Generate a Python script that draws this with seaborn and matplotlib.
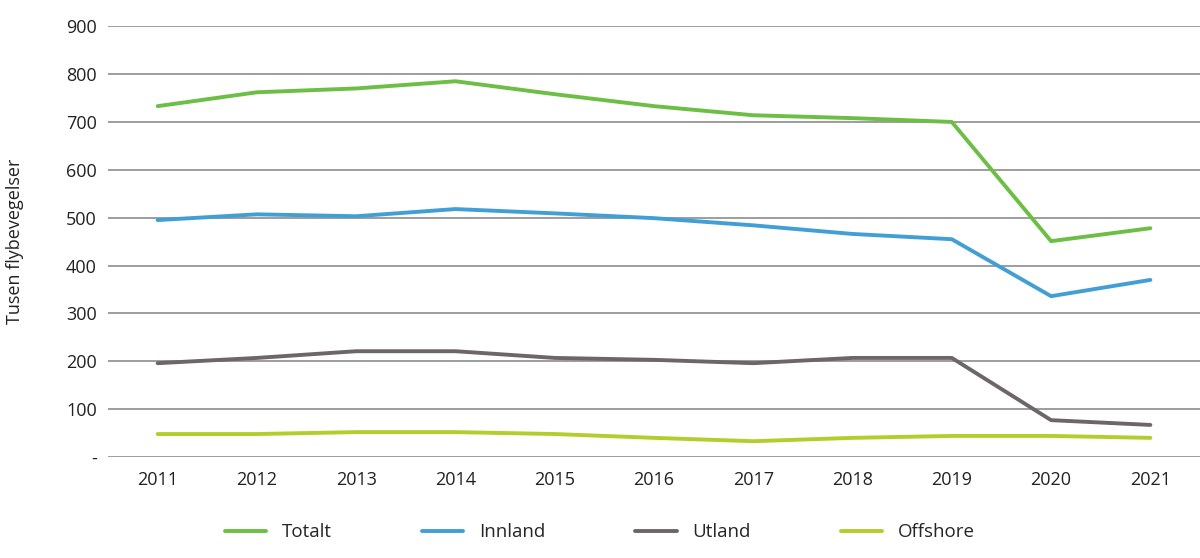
import pandas as pd
import seaborn as sns
from matplotlib import pyplot as plt

years = [2011, 2012, 2013, 2014, 2015, 2016, 2017, 2018, 2019, 2020, 2021]
totalt = [733, 762, 770, 785, 758, 733, 714, 708, 700, 451, 478]
innland = [495, 507, 503, 518, 509, 499, 484, 466, 455, 336, 370]
utland = [196, 207, 221, 221, 207, 203, 196, 207, 207, 77, 67]
offshore = [48, 48, 52, 52, 48, 40, 33, 40, 44, 44, 40]

series = ["Totalt", "Innland", "Utland", "Offshore"]
colors = ["#6dbe45", "#419fd6", "#6e6567", "#b3cd2c"]

df = pd.DataFrame({"År": years, "Totalt": totalt, "Innland": innland,
                   "Utland": utland, "Offshore": offshore})
long = df.melt(id_vars="År", var_name="Serie", value_name="Verdi")

sns.set_style("white")
plt.rcParams['font.family'] = ['Open Sans', 'DejaVu Sans']

fig = plt.figure(figsize=(12, 5.58), dpi=100)
ax = fig.add_axes([0.09, 0.181, 0.91, 0.772])

sns.lineplot(data=long, x="År", y="Verdi", hue="Serie", hue_order=series,
             palette=colors, linewidth=2.8, ax=ax)

ax.set_xlim(2010.5, 2021.5)
ax.set_ylim(0, 900)
ax.set_xticks(years)
ax.set_xticklabels([str(y) for y in years])
ax.set_yticks(range(0, 901, 100))
ax.set_yticklabels(["-"] + [str(v) for v in range(100, 901, 100)])
ax.yaxis.grid(True, color="#8c8c8c", linewidth=1.2)
ax.set_axisbelow(True)
for s in ax.spines.values():
    s.set_visible(False)
ax.tick_params(axis="both", length=0, labelsize=13, colors="#222222")
ax.tick_params(axis="y", pad=8)
ax.tick_params(axis="x", pad=10)

ax.set_xlabel("")
ax.set_ylabel("Tusen flybevegelser", fontsize=13, color="#222222")
ax.yaxis.set_label_coords(-0.077, 0.5)

ax.legend(loc="upper center", bbox_to_anchor=(0.4505, -0.115), ncol=4, frameon=False,
          fontsize=13.5, handlelength=2.2, columnspacing=4.8, handletextpad=0.85)

plt.savefig("out.png", dpi=100)
